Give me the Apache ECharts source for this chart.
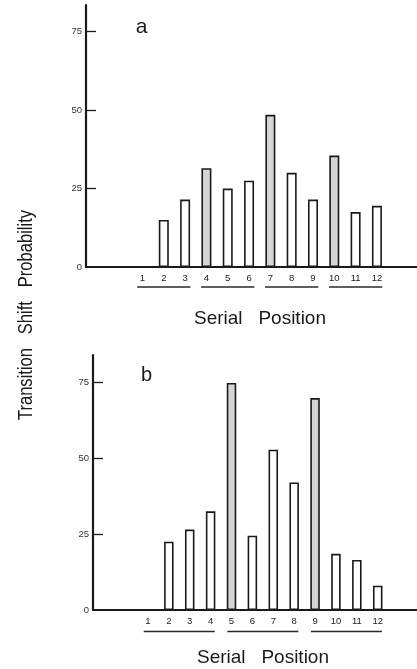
<!DOCTYPE html>
<html><head><meta charset="utf-8">
<script src="https://cdn.jsdelivr.net/npm/echarts@6/dist/echarts.min.js"></script>
<style>html,body{margin:0;padding:0;background:#fff}#c{width:417px;height:669px}</style>
</head><body><div id="c"></div>
<script>
const positions = [1,2,3,4,5,6,7,8,9,10,11,12];
const valuesA = [null,15,21.5,31.5,25,27.5,48.5,30,21.5,35.5,17.5,19.5];
const valuesB = [null,22.5,26.5,32.5,74.8,24.5,52.8,42,69.8,18.5,16.5,8];
const shadedA = [4,7,10];
const shadedB = [5,9];
const groupStartA = [1,4,7,10];
const groupEndA = [3,6,9,12];
const groupStartB = [1,5,9];
const groupEndB = [4,8,12];
const yTickLabels = [0,25,50,75];
const yTickMarks = [25,50,75];

const FONT = 'Liberation Sans';
const INK = '#1a1a1a';

function barData(vals, shaded){
  const out = [];
  positions.forEach((p,i)=>{
    if (vals[i] == null) return;
    out.push({value:[p, vals[i]], itemStyle:{color: shaded.includes(p) ? '#d5d5d5' : '#ffffff'}});
  });
  return out;
}
function groupData(starts, ends){ return starts.map((s,i)=>[s, ends[i], 0]); }
function groupRender(pad, drop){
  return function(params, api){
    const s = api.coord([api.value(0), 0]);
    const e = api.coord([api.value(1), 0]);
    const u = api.size([1,0])[0];
    return {type:'line', shape:{x1:s[0]-pad*u, y1:s[1]+drop, x2:e[0]+pad*u, y2:e[1]+drop},
            style:{stroke:'#2a2a2a', lineWidth:1.5}};
  };
}
function xAx(gi, min, max){
  return {gridIndex:gi, type:'value', min:min, max:max,
    axisLine:{show:true, onZero:false, lineStyle:{color:INK, width:2.2}},
    axisTick:{show:false}, splitLine:{show:false},
    axisLabel:{customValues:positions, fontSize:9.5, margin:6, color:'#222', fontFamily:FONT}};
}
function yAx(gi, max){
  return {gridIndex:gi, type:'value', min:0, max:max,
    axisLine:{show:true, onZero:false, lineStyle:{color:INK, width:2.2}},
    axisTick:{show:true, inside:true, length:10, customValues:yTickMarks, lineStyle:{color:INK, width:1.3}},
    splitLine:{show:false},
    axisLabel:{customValues:yTickLabels, fontSize:9.5, margin:4, color:'#333', fontFamily:FONT}};
}
function label(text, x, y, size, extra){
  return Object.assign({type:'text', x:x, y:y, silent:true,
    style:{text:text, fontSize:size, fontFamily:FONT, fill:INK, align:'center', verticalAlign:'middle'}}, extra || {});
}

const chart = echarts.init(document.getElementById('c'), null, {renderer:'canvas'});
chart.setOption({
  backgroundColor:'#fff',
  animation:false,
  grid:[
    {left:86, right:0, top:5, bottom:402},
    {left:93, right:0, top:355, bottom:59}
  ],
  xAxis:[xAx(0, -1.65, 13.88), xAx(1, -1.63, 13.88)],
  yAxis:[yAx(0, 83.5), yAx(1, 84)],
  graphic:[
    label('a', 141.5, 27, 21),
    label('b', 146.5, 375.5, 20),
    label('Serial   Position', 260, 319, 19),
    label('Serial   Position', 263, 658, 19),
    label('Transition   Shift   Probability', 26, 315, 18, {rotation:Math.PI/2, scaleX:0.92, scaleY:1.12})
  ],
  series:[
    {type:'bar', xAxisIndex:0, yAxisIndex:0, barWidth:10, data:barData(valuesA, shadedA),
     itemStyle:{borderColor:INK, borderWidth:1.6}},
    {type:'bar', xAxisIndex:1, yAxisIndex:1, barWidth:9.5, data:barData(valuesB, shadedB),
     itemStyle:{borderColor:INK, borderWidth:1.6}},
    {type:'custom', xAxisIndex:0, yAxisIndex:0, clip:false, encode:{x:[0,1], y:2},
     data:groupData(groupStartA, groupEndA), renderItem:groupRender(0.25, 20)},
    {type:'custom', xAxisIndex:1, yAxisIndex:1, clip:false, encode:{x:[0,1], y:2},
     data:groupData(groupStartB, groupEndB), renderItem:groupRender(0.2, 21.5)}
  ]
});
</script></body></html>
